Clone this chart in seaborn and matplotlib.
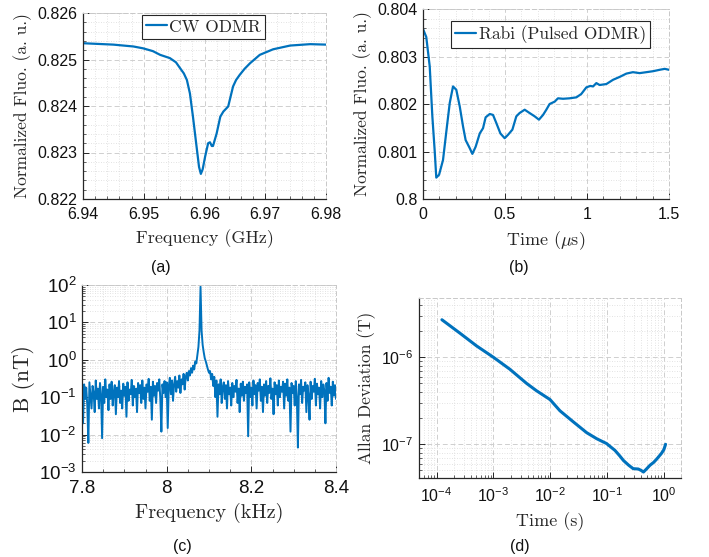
import numpy as np
import pandas as pd
import matplotlib
matplotlib.use('Agg')
import matplotlib.pyplot as plt
import seaborn as sns
from matplotlib.ticker import (AutoMinorLocator, LogLocator, NullFormatter, MultipleLocator,
                               FixedLocator, FuncFormatter, FormatStrFormatter)

# ---------------- data ----------------
# (a) CW ODMR
cw_freq = [6.9400, 6.9450, 6.9483, 6.9499, 6.9515, 6.9527, 6.9543, 6.9553, 6.9560, 6.9566,
           6.9571, 6.9576, 6.9581, 6.9587, 6.9591, 6.9594, 6.9597, 6.9601, 6.9606, 6.9609,
           6.9612, 6.9614, 6.9620, 6.9626, 6.9631, 6.9639, 6.9647, 6.9652, 6.9658, 6.9666,
           6.9675, 6.9691, 6.9713, 6.9741, 6.9774, 6.9800]
cw_fluo = [0.82535, 0.82532, 0.82528, 0.82524, 0.82518, 0.82510, 0.82503, 0.82494, 0.82481, 0.82470,
           0.82456, 0.82427, 0.82377, 0.82312, 0.82269, 0.82254, 0.82264, 0.82291, 0.82320, 0.82322,
           0.82314, 0.82314, 0.82341, 0.82377, 0.82388, 0.82399, 0.82442, 0.82456, 0.82467, 0.82480,
           0.82492, 0.82510, 0.82522, 0.82530, 0.82533, 0.82532]

# (b) Rabi
rabi_t = [0.000, 0.020, 0.041, 0.057, 0.071, 0.081, 0.098, 0.122, 0.146, 0.163,
          0.183, 0.203, 0.224, 0.244, 0.260, 0.285, 0.301, 0.321, 0.346, 0.366,
          0.382, 0.407, 0.427, 0.447, 0.472, 0.498, 0.518, 0.545, 0.569, 0.589,
          0.620, 0.650, 0.681, 0.707, 0.732, 0.752, 0.772, 0.803, 0.823, 0.854,
          0.894, 0.935, 0.965, 0.996, 1.020, 1.037, 1.057, 1.077, 1.118, 1.159,
          1.199, 1.240, 1.280, 1.321, 1.362, 1.402, 1.443, 1.474, 1.500]
rabi_fluo = [0.80358, 0.80341, 0.80279, 0.80174, 0.80103, 0.80045, 0.80051, 0.80082, 0.80153, 0.80202,
             0.80237, 0.80230, 0.80195, 0.80153, 0.80124, 0.80107, 0.80095, 0.80110, 0.80138, 0.80149,
             0.80172, 0.80179, 0.80177, 0.80160, 0.80138, 0.80128, 0.80135, 0.80146, 0.80174, 0.80181,
             0.80188, 0.80181, 0.80174, 0.80167, 0.80177, 0.80188, 0.80200, 0.80205, 0.80212, 0.80211,
             0.80212, 0.80214, 0.80221, 0.80235, 0.80238, 0.80237, 0.80244, 0.80240, 0.80242, 0.80251,
             0.80257, 0.80264, 0.80267, 0.80265, 0.80267, 0.80269, 0.80272, 0.80274, 0.80272]

# (c) magnetic spectrum, 7.8 .. 8.4 kHz, 2.5 Hz step
spec_f_start, spec_f_step = 7.8, 0.0025
spec_b = [
    0.15, 0.02, 0.22, 0.09, 0.18, 0.06, 0.006, 0.25, 0.11, 0.05,
    0.20, 0.13, 0.04, 0.28, 0.09, 0.17, 0.05, 0.24, 0.12, 0.008,
    0.19, 0.07, 0.30, 0.10, 0.16, 0.045, 0.22, 0.09, 0.26, 0.06,
    0.14, 0.21, 0.035, 0.18, 0.10, 0.27, 0.07, 0.15, 0.05, 0.23,
    0.11, 0.19, 0.03, 0.25, 0.08, 0.16, 0.12, 0.29, 0.06, 0.20,
    0.10, 0.17, 0.04, 0.24, 0.13, 0.21, 0.07, 0.28, 0.09, 0.18,
    0.05, 0.22, 0.14, 0.31, 0.08, 0.19, 0.025, 0.26, 0.11, 0.20,
    0.07, 0.24, 0.15, 0.30, 0.09, 0.012, 0.22, 0.13, 0.27, 0.10,
    0.25, 0.015, 0.20, 0.33, 0.12, 0.28, 0.08, 0.22, 0.35, 0.14,
    0.27, 0.18, 0.38, 0.13, 0.30, 0.22, 0.42, 0.16, 0.35, 0.45,
    0.28, 0.50, 0.38, 0.60, 0.45, 0.70, 0.55, 0.90, 0.80, 1.30, 2.20, 6.0,
    90.0,
    6.0, 2.5, 1.6, 1.1, 0.90, 0.70, 0.55, 0.45, 0.50, 0.30, 0.42, 0.20,
    0.35, 0.10, 0.28, 0.03, 0.22, 0.12, 0.30, 0.07, 0.19, 0.25,
    0.09, 0.21, 0.05, 0.27, 0.12, 0.18, 0.06, 0.24, 0.10, 0.20,
    0.14, 0.29, 0.07, 0.17, 0.04, 0.23, 0.11, 0.26, 0.08, 0.19,
    0.13, 0.22, 0.009, 0.25, 0.10, 0.18, 0.06, 0.28, 0.12, 0.21,
    0.05, 0.24, 0.15, 0.30, 0.08, 0.19, 0.04, 0.22, 0.11, 0.27,
    0.07, 0.20, 0.13, 0.32, 0.09, 0.17, 0.035, 0.25, 0.12, 0.21,
    0.06, 0.28, 0.10, 0.19, 0.14, 0.26, 0.05, 0.23, 0.11, 0.30,
    0.08, 0.18, 0.012, 0.24, 0.13, 0.20, 0.06, 0.27, 0.10, 0.0045,
    0.22, 0.12, 0.29, 0.07, 0.19, 0.15, 0.25, 0.04, 0.21, 0.11,
    0.025, 0.26, 0.09, 0.20, 0.14, 0.31, 0.06, 0.23, 0.12, 0.18,
    0.05, 0.27, 0.10, 0.22, 0.15, 0.02, 0.24, 0.08, 0.33, 0.13,
    0.19, 0.06, 0.26, 0.11, 0.21, 0.09]
spec_f = [round(spec_f_start + i * spec_f_step, 4) for i in range(len(spec_b))]

# (d) Allan deviation
allan_tau = [1.24e-4, 2.58e-4, 5.06e-4, 1.0e-3, 1.95e-3, 3.85e-3, 5.75e-3, 9.9e-3, 1.48e-2, 2.55e-2,
             4.38e-2, 6.56e-2, 9.8e-2, 0.138, 0.166, 0.195, 0.24, 0.288, 0.355, 0.40,
             0.437, 0.50, 0.57, 0.66, 0.746, 0.91, 1.0, 1.07]
allan_dev = [2.70e-6, 1.89e-6, 1.35e-6, 1.0e-6, 7.28e-7, 5.0e-7, 4.12e-7, 3.27e-7, 2.43e-7, 1.81e-7,
             1.36e-7, 1.16e-7, 1.02e-7, 8.5e-8, 7.4e-8, 6.5e-8, 5.75e-8, 5.25e-8, 5.2e-8, 5.0e-8,
             4.8e-8, 5.25e-8, 5.75e-8, 6.2e-8, 6.75e-8, 7.9e-8, 8.7e-8, 1.0e-7]

# ---------------- style ----------------
sns.set_theme(style='white')
plt.rcParams['font.family'] = ['Liberation Sans', 'DejaVu Sans']
plt.rcParams['mathtext.fontset'] = 'cm'
plt.rcParams['axes.unicode_minus'] = False

BLUE = '#0072BD'
SERIF = 'cmr10'
W, H = 709, 557

fig = plt.figure(figsize=(W / 100, H / 100), dpi=100)


def box(l, t, r, b):
    return [l / W, 1 - b / H, (r - l) / W, (b - t) / H]


def style(ax, tick_fs):
    for s in ['left', 'bottom']:
        ax.spines[s].set_color('#262626')
        ax.spines[s].set_linewidth(0.9)
    for s in ['top', 'right']:
        ax.spines[s].set_color('#c8c8c8')
        ax.spines[s].set_linestyle((0, (4, 3)))
        ax.spines[s].set_linewidth(0.7)
    ax.grid(True, which='major', color='#cfcfcf', ls=(0, (5, 3)), lw=0.7)
    ax.grid(True, which='minor', color='#d9d9d9', ls=(0, (1, 2)), lw=0.6)
    ax.set_axisbelow(True)
    ax.tick_params(which='both', direction='in', colors='#262626', labelsize=tick_fs,
                   top=False, right=False, left=True, bottom=True, labelcolor='#111111')
    ax.tick_params(which='major', length=4, width=0.7)
    ax.tick_params(which='minor', length=2, width=0.5)
    ax.tick_params(axis='x', which='both', pad=6)
    ax.tick_params(axis='y', which='both', pad=4)


def add_legend(ax, anchor):
    lg = ax.legend(loc='upper center', bbox_to_anchor=anchor, prop={'family': SERIF, 'size': 12.5},
                   frameon=True, fancybox=False, edgecolor='#262626', framealpha=1,
                   handlelength=1.2, handletextpad=0.15, borderpad=0.25, borderaxespad=0)
    lg.get_frame().set_linewidth(0.8)


# ---- (a) ----
ax = fig.add_axes(box(83, 13, 326, 199))
sns.lineplot(x=cw_freq, y=cw_fluo, ax=ax, color=BLUE, lw=1.6, label='CW ODMR')
ax.set_xlim(6.94, 6.98)
ax.set_ylim(0.822, 0.826)
ax.xaxis.set_major_locator(MultipleLocator(0.01))
ax.yaxis.set_major_locator(MultipleLocator(0.001))
ax.xaxis.set_minor_locator(AutoMinorLocator(5))
ax.yaxis.set_minor_locator(AutoMinorLocator(5))
ax.xaxis.set_major_formatter(FormatStrFormatter('%.2f'))
ax.yaxis.set_major_formatter(FormatStrFormatter('%.3f'))
style(ax, 11.5)
ax.set_xlabel('Frequency (GHz)', fontfamily=SERIF, fontsize=13, labelpad=5)
ax.set_ylabel('Normalized Fluo. (a. u.)', fontfamily=SERIF, fontsize=12.5, labelpad=4)
add_legend(ax, (0.496, 0.99))

# ---- (b) ----
ax = fig.add_axes(box(423, 9, 669, 199))
sns.lineplot(x=rabi_t, y=rabi_fluo, ax=ax, color=BLUE, lw=1.6, label='Rabi (Pulsed ODMR)')
ax.set_xlim(0, 1.5)
ax.set_ylim(0.800, 0.804)
ax.xaxis.set_major_locator(FixedLocator([0, 0.5, 1, 1.5]))
ax.yaxis.set_major_locator(MultipleLocator(0.001))
ax.xaxis.set_minor_locator(MultipleLocator(0.1))
ax.yaxis.set_minor_locator(AutoMinorLocator(5))
ax.xaxis.set_major_formatter(FuncFormatter(lambda v, p: '%g' % v))
ax.yaxis.set_major_formatter(FuncFormatter(lambda v, p: '%g' % round(v, 3)))
style(ax, 11.5)
ax.set_xlabel(r'Time ($\mu$s)', fontfamily=SERIF, fontsize=13, labelpad=5)
ax.set_ylabel('Normalized Fluo. (a. u.)', fontfamily=SERIF, fontsize=12.5, labelpad=4)
add_legend(ax, (0.518, 0.937))

# ---- (c) ----
ax = fig.add_axes(box(82, 285, 336, 472))
sns.lineplot(x=spec_f, y=spec_b, ax=ax, color=BLUE, lw=1.4, legend=False, estimator=None)
ax.set_yscale('log')
ax.set_xlim(7.8, 8.4)
ax.set_ylim(1e-3, 1e2)
ax.xaxis.set_major_locator(FixedLocator([7.8, 8.0, 8.2, 8.4]))
ax.xaxis.set_minor_locator(MultipleLocator(0.05))
ax.xaxis.set_major_formatter(FuncFormatter(lambda v, p: '%g' % round(v, 1)))
ax.yaxis.set_major_locator(LogLocator(base=10, numticks=10))
ax.yaxis.set_minor_locator(LogLocator(base=10, subs=np.arange(2, 10), numticks=20))
ax.yaxis.set_minor_formatter(NullFormatter())
style(ax, 13.5)
ax.set_xlabel('Frequency (kHz)', fontfamily=SERIF, fontsize=14.5, labelpad=4)
ax.set_ylabel('B (nT)', fontfamily=SERIF, fontsize=15.5, labelpad=3)

# ---- (d) ----
ax = fig.add_axes(box(419, 298, 681, 478))
sns.lineplot(x=allan_tau, y=allan_dev, ax=ax, color=BLUE, lw=2.2, legend=False, estimator=None)
ax.set_xscale('log')
ax.set_yscale('log')
ax.set_xlim(4.9e-5, 2.0)
ax.set_ylim(4.1e-8, 4.8e-6)
ax.xaxis.set_major_locator(LogLocator(base=10, numticks=10))
ax.xaxis.set_minor_locator(LogLocator(base=10, subs=np.arange(2, 10), numticks=20))
ax.yaxis.set_major_locator(LogLocator(base=10, numticks=10))
ax.yaxis.set_minor_locator(LogLocator(base=10, subs=np.arange(2, 10), numticks=20))
ax.xaxis.set_minor_formatter(NullFormatter())
ax.yaxis.set_minor_formatter(NullFormatter())
style(ax, 11.5)
ax.set_xlabel('Time (s)', fontfamily=SERIF, fontsize=13, labelpad=5)
ax.set_ylabel('Allan Deviation (T)', fontfamily=SERIF, fontsize=12.5, labelpad=4)

# captions
for txt, x, y in [('(a)', 161, 267), ('(b)', 519, 267), ('(c)', 182, 546), ('(d)', 520, 546)]:
    fig.text(x / W, 1 - y / H, txt, ha='center', va='center', fontsize=11.5, color='#111111')

fig.savefig('out.png', dpi=100)
